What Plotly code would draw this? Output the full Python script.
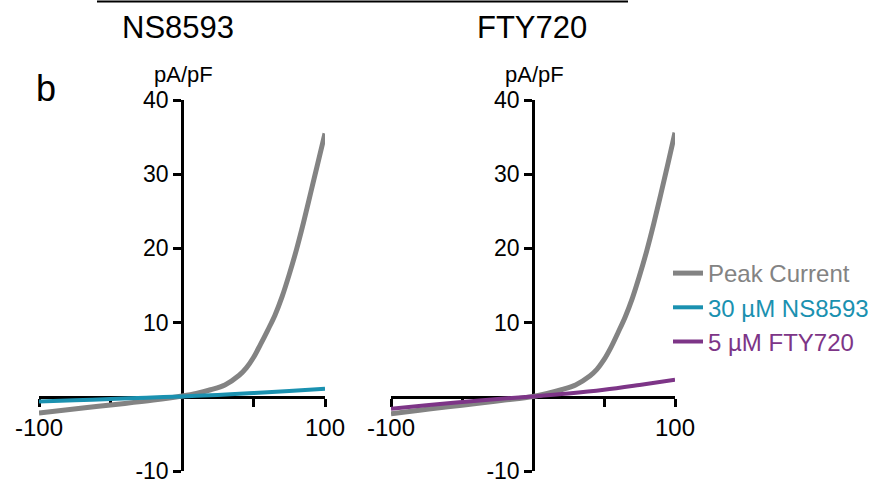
import plotly.graph_objects as go

# ---- data ----
voltage_mv = [-100, -80, -60, -40, -20, 0, 10, 20, 30, 40, 45, 50, 55, 60, 65, 70, 75, 80, 85, 90, 95, 100]
peak_ns = [-2.2, -1.75, -1.3, -0.9, -0.45, 0.1, 0.45, 0.95, 1.6, 2.9, 3.9, 5.3, 7.1, 9.0, 11.0, 13.5, 16.5, 19.8, 23.5, 27.5, 31.5, 35.5]
peak_fty = [-2.3, -1.8, -1.35, -0.9, -0.45, 0.05, 0.45, 0.95, 1.6, 2.8, 3.7, 5.0, 6.7, 8.7, 10.8, 13.3, 16.3, 19.6, 23.3, 27.3, 31.4, 35.6]
drug_v = [-100, -75, -50, -25, 0, 25, 50, 75, 100]
ns8593 = [-0.65, -0.48, -0.3, -0.12, 0.05, 0.25, 0.5, 0.78, 1.1]
fty720 = [-1.6, -1.15, -0.7, -0.3, 0.05, 0.45, 0.95, 1.6, 2.3]

x_ticks = [-100, -50, 0, 50, 100]
x_ticktext = ["-100", "", "", "", "100"]
y_ticks = [-10, 0, 10, 20, 30, 40]
y_ticktext = ["-10", "", "10", "20", "30", "40"]
panel_titles = ["NS8593", "FTY720"]

GRAY = "#838383"
TEAL = "#1a91b0"
PURPLE = "#7d3587"
FONT = "Liberation Sans, Arial, sans-serif"

W, H = 890, 485
def px(x):
    return x / W
def py(y):
    return 1 - y / H

fig = go.Figure()

fig.add_trace(go.Scatter(x=voltage_mv, y=peak_ns, mode="lines", line=dict(color=GRAY, width=5, shape="spline"),
                         name='<span style="color:%s">Peak Current</span>' % GRAY,
                         legendgroup="a", xaxis="x", yaxis="y"))
fig.add_trace(go.Scatter(x=drug_v, y=ns8593, mode="lines", line=dict(color=TEAL, width=4, shape="spline"),
                         name='<span style="color:%s">30 µM NS8593</span>' % TEAL,
                         legendgroup="b", xaxis="x", yaxis="y"))
fig.add_trace(go.Scatter(x=voltage_mv, y=peak_fty, mode="lines", line=dict(color=GRAY, width=5, shape="spline"),
                         showlegend=False, legendgroup="a", xaxis="x2", yaxis="y2"))
fig.add_trace(go.Scatter(x=drug_v, y=fty720, mode="lines", line=dict(color=PURPLE, width=4, shape="spline"),
                         name='<span style="color:%s">5 µM FTY720</span>' % PURPLE,
                         legendgroup="c", xaxis="x2", yaxis="y2"))

ydom = [py(471), py(100)]
xdom1 = [px(39), px(325)]
xdom2 = [px(391), px(675)]

def xaxis_cfg(dom):
    return dict(domain=dom, range=[-100, 100], anchor="free", position=py(397), automargin=False,
                showline=True, linecolor="black", linewidth=2.5, showgrid=False, zeroline=False,
                ticks="outside", ticklen=8, tickwidth=2.5, tickcolor="black",
                tickvals=x_ticks, ticktext=x_ticktext, tickfont=dict(size=24, color="black", family=FONT),
                fixedrange=True, layer="below traces")

def yaxis_cfg(xpos):
    return dict(domain=ydom, range=[-10, 40], anchor="free", position=xpos, automargin=False,
                showline=True, linecolor="black", linewidth=2.5, showgrid=False, zeroline=False,
                ticks="outside", ticklen=8, tickwidth=2.5, tickcolor="black",
                tickvals=y_ticks, ticktext=y_ticktext, tickfont=dict(size=23, color="black", family=FONT),
                fixedrange=True, layer="below traces")

fig.update_layout(
    width=W, height=H,
    margin=dict(l=0, r=0, t=0, b=0, pad=0, autoexpand=False),
    paper_bgcolor="white", plot_bgcolor="rgba(0,0,0,0)",
    font=dict(family=FONT, color="black"),
    xaxis=xaxis_cfg(xdom1),
    yaxis=yaxis_cfg(px(182)),
    xaxis2=xaxis_cfg(xdom2),
    yaxis2=yaxis_cfg(px(533)),
    showlegend=True,
    legend=dict(x=px(668), y=py(251), xanchor="left", yanchor="top",
                font=dict(size=24, family=FONT), traceorder="grouped", tracegroupgap=0,
                bgcolor="rgba(0,0,0,0)", itemwidth=30),
)

annos = [
    dict(text=panel_titles[0], x=px(178), y=py(27), size=31),
    dict(text=panel_titles[1], x=px(532), y=py(27), size=31),
    dict(text="pA/pF", x=px(183), y=py(74), size=22),
    dict(text="pA/pF", x=px(534), y=py(74), size=22),
    dict(text="b", x=px(46), y=py(88), size=36),
]
for a in annos:
    fig.add_annotation(xref="paper", yref="paper", showarrow=False, xanchor="center", yanchor="middle",
                       text=a["text"], x=a["x"], y=a["y"], font=dict(family=FONT, color="black", size=a["size"]))

fig.add_shape(type="line", xref="paper", yref="paper", x0=px(97), x1=px(628), y0=py(1.5), y1=py(1.5),
              line=dict(color="black", width=2))

fig.write_html("out.html", config={"displayModeBar": False},
               post_script="document.body.style.margin='0px';")
